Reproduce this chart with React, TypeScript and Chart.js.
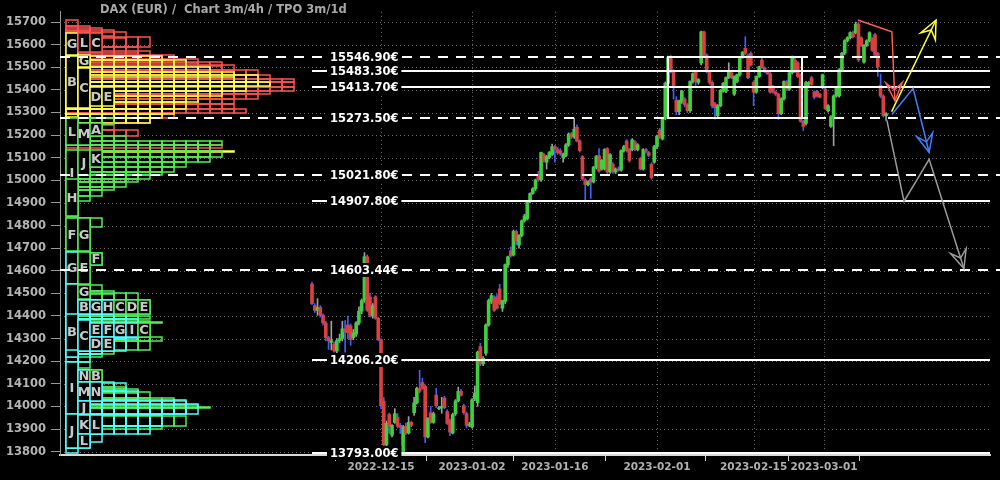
import React, { useEffect, useRef } from 'react';
import { Chart, registerables } from 'chart.js';

Chart.register(...registerables);

// ---- candle data (4h candles, index = candle number) ----
const opens = [
  14541,14446,14425,14438,14403,14369,14304,14283,14275,14245,
  14291,14300,14343,14360,14356,14304,14320,14369,14421,14468,
  14662,14485,14399,14485,14390,14296,14024,13830,13964,13873,
  13929,13951,13916,13800,13912,13882,13929,13972,14016,14080,
  14106,14089,13865,13972,13929,14050,13990,13994,14037,13977,
  13938,13882,13968,14024,14067,14003,13968,13916,13908,14033,
  14016,14265,14188,14235,14360,14464,14481,14485,14520,14434,
  14464,14627,14688,14670,14774,14713,14756,14821,14830,14907,
  14942,14963,15024,15002,15114,15080,15101,15114,15149,15136,
  15131,15101,15110,15157,15205,15192,15235,15174,15105,15002,
  14981,15006,14993,15058,15110,15050,15050,15140,15037,15071,
  15037,15050,15045,15131,15174,15136,15136,15170,15136,15097,
  15050,15136,15123,15071,15080,15149,15222,15183,15274,15429,
  15545,15480,15355,15304,15351,15360,15334,15308,15437,15480,
  15433,15519,15657,15554,15480,15433,15338,15286,15330,15394,
  15394,15454,15476,15381,15437,15467,15545,15584,15554,15562,
  15433,15390,15459,15532,15498,15480,15472,15416,15390,15381,
  15295,15360,15437,15403,15476,15532,15519,15467,15261,15252,
  15424,15454,15390,15394,15381,15411,15403,15308,15239,15274,
  15373,15373,15489,15562,15618,15631,15653,15653,15691,15631,
  15523,15597,15618,15627,15644,15562,15420,15373,15286,
];
const highs = [
  14550,14455,14477,14446,14410,14377,14310,14377,14285,14300,
  14320,14377,14380,14400,14365,14340,14375,14440,14475,14680,
  14670,14500,14455,14490,14395,14300,14040,13935,13970,13920,
  13990,13968,13925,13916,13925,13955,13935,14040,14085,14160,
  14125,14095,13950,14000,13975,14080,14000,14040,14045,13985,
  13945,13970,14030,14085,14075,14010,13975,13930,14035,14090,
  14245,14280,14220,14365,14475,14500,14490,14495,14540,14470,
  14630,14665,14705,14780,14780,14760,14825,14850,14910,14945,
  14968,15005,15040,15125,15120,15110,15128,15160,15155,15145,
  15140,15120,15162,15210,15212,15275,15245,15180,15110,15008,
  14998,15012,15062,15110,15140,15092,15140,15145,15118,15078,
  15055,15060,15135,15155,15180,15142,15185,15176,15162,15102,
  15140,15140,15128,15078,15155,15200,15230,15278,15435,15550,
  15552,15490,15370,15355,15398,15366,15340,15440,15476,15485,
  15450,15660,15660,15560,15485,15440,15345,15335,15402,15433,
  15458,15520,15482,15462,15470,15548,15570,15635,15560,15568,
  15440,15462,15505,15540,15502,15485,15478,15420,15395,15386,
  15365,15440,15442,15480,15550,15540,15525,15472,15266,15438,
  15437,15460,15396,15398,15386,15470,15408,15335,15286,15378,
  15415,15494,15566,15622,15635,15657,15660,15700,15700,15636,
  15600,15622,15657,15632,15650,15566,15470,15378,15300,
];
const lows = [
  14450,14415,14403,14395,14360,14290,14252,14250,14240,14235,
  14283,14290,14240,14300,14270,14295,14310,14360,14410,14460,
  14420,14395,14390,14385,14290,13990,13825,13820,13880,13865,
  13925,13905,13880,13793,13875,13878,13910,13960,14010,14060,
  14075,13840,13860,13925,13925,13995,13985,13970,13990,13920,
  13870,13878,13960,14020,14045,13965,13905,13910,13905,14025,
  14000,14180,14180,14225,14355,14455,14420,14430,14450,14420,
  14455,14615,14660,14665,14715,14700,14750,14815,14825,14900,
  14938,14955,14995,14995,15080,15050,15095,15110,15080,15115,
  15110,15080,15105,15150,15185,15185,15170,15125,15000,14905,
  14975,14920,14988,15050,15035,15045,15045,15030,15030,15030,
  15030,15040,15040,15125,15125,15080,15130,15130,15130,15045,
  15045,15120,15105,15005,15075,15140,15185,15178,15268,15420,
  15475,15360,15290,15290,15340,15325,15300,15300,15430,15420,
  15425,15510,15550,15475,15425,15320,15270,15280,15325,15390,
  15388,15450,15450,15375,15432,15460,15540,15556,15450,15505,
  15330,15385,15455,15495,15476,15468,15385,15385,15375,15270,
  15290,15355,15398,15398,15470,15476,15455,15257,15220,15245,
  15418,15420,15360,15368,15364,15405,15312,15302,15234,15153,
  15368,15368,15484,15556,15612,15625,15630,15648,15525,15592,
  15518,15592,15612,15570,15550,15460,15365,15280,15265,
];
const closes = [
  14455,14425,14438,14403,14369,14304,14290,14291,14245,14291,
  14300,14343,14330,14326,14296,14326,14369,14421,14468,14662,
  14425,14403,14446,14390,14296,14003,13830,13925,13912,13916,
  13968,13912,13908,13908,13882,13929,13916,14016,14080,14067,
  14080,13865,13946,13929,13968,14003,13994,14000,13994,13925,
  13886,13964,14024,14067,14050,13972,13916,13920,14029,14059,
  14240,14188,14213,14360,14468,14490,14425,14434,14455,14468,
  14627,14662,14666,14774,14731,14756,14821,14843,14907,14942,
  14963,15002,15002,15123,15088,15105,15123,15149,15140,15123,
  15118,15114,15157,15205,15192,15226,15174,15131,15006,14981,
  14993,14993,15058,15105,15041,15088,15136,15037,15114,15037,
  15050,15045,15131,15149,15131,15088,15179,15136,15157,15050,
  15136,15128,15110,15011,15149,15196,15192,15274,15429,15545,
  15480,15416,15304,15351,15394,15334,15308,15437,15472,15437,
  15446,15657,15554,15480,15433,15330,15321,15330,15398,15429,
  15454,15480,15454,15459,15467,15545,15566,15562,15454,15510,
  15390,15459,15502,15498,15480,15472,15390,15390,15381,15295,
  15360,15437,15403,15476,15545,15480,15459,15261,15239,15433,
  15433,15424,15368,15373,15368,15467,15317,15330,15282,15373,
  15411,15489,15562,15618,15631,15653,15635,15691,15532,15597,
  15597,15618,15653,15575,15554,15502,15373,15286,15295,
];

// ---- x axis date ticks (candle index where the day starts) ----
const dateTickIdx = [25, 58, 88, 125, 160, 185.5];
const dateLabels = ['2022-12-15', '2023-01-02', '2023-01-16', '2023-02-01', '2023-02-15', '2023-03-01'];

// ---- price levels ----
const levelValues = [15546.90, 15483.30, 15413.70, 15273.50, 15021.80, 14907.80, 14603.44, 14206.20, 13793.00];
const levelDashed = [true, false, false, true, true, false, true, false, false];

// ---- value area box: [fromIdx, toIdx, low, high] ----
const rangeBox = [129, 177.5, 15273.5, 15546.9];

// ---- drawn arrows: [candle index, price] ----
const yellowArrow = [[210, 15304], [226.1, 15709]];
const redArrow = [[197.8, 15709], [210.1, 15657], [211.2, 15351]];
const blueArrow = [[210.1, 15291], [217.8, 15407], [223.6, 15123]];
const grayArrow = [[208.3, 15265], [214.5, 14907], [223.6, 15093], [236.2, 14610]];

// ---- TPO profile rows: [low, high, number of TPO boxes] ----
const tpoRed = [
  [15683,15709,1],[15661,15683,2],[15653,15674,3],[15640,15666,4],[15631,15657,5],
  [15588,15635,7],[15562,15588,6],[15549,15570,7],[15532,15554,9],[15519,15535,11],
  [15505,15525,13],[15489,15510,14],[15467,15489,16],[15450,15467,17],[15433,15450,19],
  [15411,15437,19],[15394,15411,19],[15381,15394,17],[15360,15381,16],[15338,15360,14],
  [15317,15338,14],[15299,15317,15],[15274,15299,9],[15252,15274,7],[15222,15243,4],
  [15196,15222,6],[15144,15157,13],
];
const tpoYellow = [
  [15532,15549,8],[15502,15532,10],[15480,15502,12],[15459,15480,14],[15437,15467,16],
  [15416,15437,17],[15394,15416,15],[15373,15394,13],[15347,15373,11],[15317,15347,10],
  [15295,15317,9],[15274,15295,8],[15252,15274,7],[15282,15321,1],[15125,15131,14],
];
const tpoGreen = [
  [15248,15274,4],[15222,15248,3],[15174,15196,5],[15157,15174,13],[15131,15157,12],
  [15101,15131,13],[15080,15101,12],[15058,15080,10],[15037,15058,9],[15024,15037,8],
  [15006,15024,7],[14993,15006,6],[14972,14993,5],[14955,14972,4],[14929,14955,3],
  [14907,14929,2],[14843,14907,1],[14795,14834,3],[14688,14795,2],[14627,14679,3],
  [14541,14627,2],[14511,14537,3],[14498,14511,4],[14472,14502,6],[14408,14472,7],
  [14399,14412,6],[14386,14399,7],[14369,14373,8],[14309,14377,7],[14291,14309,8],
  [14248,14291,7],[14231,14244,4],[14218,14231,3],[14171,14197,2],[14106,14162,3],
  [14085,14106,4],[14076,14085,5],[14059,14076,6],[14037,14063,7],[14024,14037,9],
  [14007,14024,10],[13994,14007,11],[13994,13998,12],[13912,13959,10],[13899,13912,8],
];
const tpoCyan = [
  [14408,14472,4],[14386,14408,5],[14309,14386,6],[14296,14309,6],[14244,14296,5],
  [14231,14244,3],[14197,14231,2],[14106,14162,2],[14067,14102,5],[14029,14067,6],
  [13968,14029,10],[13968,14011,11],[13912,13964,8],[13878,13912,7],[13843,13878,3],
  [13817,13843,2],[13795,13817,1],
];
// [letter, column, low, high, colour key]
const tpoLetters = [
  ['G',0,15554,15653,'y'],['L',1,15566,15653,'r'],['C',2,15566,15653,'r'],
  ['B',0,15321,15549,'y'],['G',1,15502,15554,'y'],['C',1,15321,15498,'y'],
  ['D',2,15330,15411,'y'],['E',3,15330,15411,'y'],
  ['L',0,15157,15274,'g'],['M',1,15157,15252,'g'],['A',2,15196,15252,'g'],
  ['I',0,14929,15136,'g'],['J',1,15024,15136,'g'],['K',2,15058,15136,'g'],
  ['H',0,14843,15006,'g'],['F',0,14688,14834,'g'],['G',1,14688,14834,'g'],
  ['F',2,14627,14679,'g'],['G',0,14541,14683,'c'],['E',1,14541,14683,'g'],
  ['A',0,14218,14541,'c'],['G',1,14477,14537,'g'],
  ['B',1,14408,14472,'c'],['G',2,14408,14472,'c'],['H',3,14408,14472,'c'],
  ['C',4,14408,14472,'g'],['D',5,14408,14472,'g'],['E',6,14408,14472,'g'],
  ['B',0,14248,14408,'c'],['C',1,14244,14382,'c'],
  ['E',2,14309,14369,'c'],['F',3,14309,14369,'c'],['G',4,14309,14369,'c'],
  ['I',5,14309,14369,'c'],['C',6,14309,14369,'g'],
  ['D',2,14244,14309,'c'],['E',3,14244,14309,'c'],
  ['I',0,13968,14197,'c'],['N',1,14106,14162,'c'],['B',2,14106,14162,'g'],
  ['M',1,14024,14106,'c'],['N',2,14024,14106,'c'],['J',1,13968,14024,'c'],
  ['J',0,13817,13968,'c'],['K',1,13878,13964,'c'],['L',2,13878,13964,'c'],
  ['L',1,13817,13878,'c'],
];

const TITLE = 'DAX (EUR) /  Chart 3m/4h / TPO 3m/1d';
const Y_MIN = 13785;
const Y_MAX = 15745;
const FONT = "'DejaVu Sans', sans-serif";
const TPO_COLORS: any = { r: '#ff5252', y: '#ffff52', g: '#52f052', c: '#52ffff' };

// layout of the index axis
const AREA_LEFT = 60;
const AREA_RIGHT = 990;
const FIRST_CANDLE_PX = 312;
const PX_PER_CANDLE = 2.76;
const X_MIN = -(FIRST_CANDLE_PX - AREA_LEFT) / PX_PER_CANDLE;
const X_MAX = X_MIN + (AREA_RIGHT - AREA_LEFT) / PX_PER_CANDLE;
// TPO columns expressed on the same index axis (12px wide, starting 6px right of the axis)
const TPO_X0 = X_MIN + 6 / PX_PER_CANDLE;
const TPO_COL = 12 / PX_PER_CANDLE;

function colPx(x: any, j: number) {
  return Math.round(x.getPixelForValue(TPO_X0 + j * TPO_COL));
}

function strokeRows(ctx: any, rows: number[][], color: string, x: any, y: any) {
  ctx.strokeStyle = color;
  ctx.lineWidth = 1.5;
  for (const [lo, hi, n] of rows) {
    const top = Math.round(y.getPixelForValue(hi));
    const bot = Math.round(y.getPixelForValue(lo));
    for (let j = 0; j < n; j++) {
      const l = colPx(x, j);
      const r = colPx(x, j + 1);
      ctx.strokeRect(l, top, r - l, Math.max(1, bot - top));
    }
  }
}

function drawArrow(ctx: any, pts: number[][], color: string, x: any, y: any) {
  const p = pts.map(([i, v]) => [x.getPixelForValue(i), y.getPixelForValue(v)]);
  ctx.save();
  ctx.strokeStyle = color;
  ctx.lineWidth = 1.5;
  ctx.setLineDash([]);
  ctx.beginPath();
  p.forEach(([px, py], k) => (k === 0 ? ctx.moveTo(px, py) : ctx.lineTo(px, py)));
  ctx.stroke();
  const [ax, ay] = p[p.length - 2];
  const [tx, ty] = p[p.length - 1];
  const a = Math.atan2(ty - ay, tx - ax);
  const L = 20;
  const th = 0.42;
  const w1 = [tx - L * Math.cos(a - th), ty - L * Math.sin(a - th)];
  const w2 = [tx - L * Math.cos(a + th), ty - L * Math.sin(a + th)];
  const nn = [tx - 0.55 * L * Math.cos(a), ty - 0.55 * L * Math.sin(a)];
  ctx.beginPath();
  ctx.moveTo(tx, ty);
  ctx.lineTo(w1[0], w1[1]);
  ctx.lineTo(nn[0], nn[1]);
  ctx.lineTo(w2[0], w2[1]);
  ctx.closePath();
  ctx.stroke();
  ctx.restore();
}

const overlayPlugin = {
  id: 'overlay',
  beforeDraw(chart: any) {
    const { ctx, width, height } = chart;
    ctx.save();
    ctx.fillStyle = '#000';
    ctx.fillRect(0, 0, width, height);
    ctx.restore();
  },
  beforeDatasetsDraw(chart: any) {
    const { ctx, chartArea: a } = chart;
    const x = chart.scales.x;
    const y = chart.scales.y;
    ctx.save();
    // dotted grid
    ctx.strokeStyle = '#6e6e6e';
    ctx.lineWidth = 1;
    ctx.setLineDash([1, 3]);
    for (const t of y.ticks) {
      if (t.value % 100 !== 0) continue;
      const py = Math.round(y.getPixelForValue(t.value)) + 0.5;
      ctx.beginPath();
      ctx.moveTo(a.left, py);
      ctx.lineTo(a.right, py);
      ctx.stroke();
    }
    for (const v of dateTickIdx) {
      const px = Math.round(x.getPixelForValue(v)) + 0.5;
      ctx.beginPath();
      ctx.moveTo(px, a.top);
      ctx.lineTo(px, a.bottom);
      ctx.stroke();
    }
    ctx.setLineDash([]);
    // TPO profile
    strokeRows(ctx, tpoRed, TPO_COLORS.r, x, y);
    strokeRows(ctx, tpoYellow, TPO_COLORS.y, x, y);
    strokeRows(ctx, tpoGreen, TPO_COLORS.g, x, y);
    strokeRows(ctx, tpoCyan, TPO_COLORS.c, x, y);
    ctx.font = `bold 13px ${FONT}`;
    ctx.textAlign = 'center';
    ctx.textBaseline = 'middle';
    for (const [ch, col, lo, hi, ck] of tpoLetters as any[]) {
      const top = Math.round(y.getPixelForValue(hi));
      const bot = Math.round(y.getPixelForValue(lo));
      const l = colPx(x, col);
      const r = colPx(x, col + 1);
      ctx.fillStyle = '#000';
      ctx.fillRect(l, top, r - l, bot - top);
      ctx.strokeStyle = TPO_COLORS[ck];
      ctx.lineWidth = 1.5;
      ctx.strokeRect(l, top, r - l, bot - top);
      ctx.fillStyle = '#c8c8c8';
      ctx.fillText(ch, (l + r) / 2, (top + bot) / 2 + 1);
    }
    ctx.restore();
  },
  afterDatasetsDraw(chart: any) {
    const { ctx, chartArea: a, width } = chart;
    const x = chart.scales.x;
    const y = chart.scales.y;
    ctx.save();
    // value area box
    const [bi0, bi1, blo, bhi] = rangeBox;
    const bx0 = Math.round(x.getPixelForValue(bi0));
    const bx1 = Math.round(x.getPixelForValue(bi1));
    const by0 = Math.round(y.getPixelForValue(bhi));
    const by1 = Math.round(y.getPixelForValue(blo));
    ctx.strokeStyle = '#ffffff';
    ctx.lineWidth = 2;
    ctx.strokeRect(bx0, by0, bx1 - bx0, by1 - by0);
    // levels
    const x0 = x.getPixelForValue(0);
    levelValues.forEach((v, i) => {
      const py = Math.round(y.getPixelForValue(v));
      ctx.strokeStyle = '#ffffff';
      ctx.lineWidth = 2;
      ctx.beginPath();
      if (levelDashed[i]) {
        ctx.setLineDash([10, 8]);
        ctx.moveTo(a.left, py);
        ctx.lineTo(width, py);
      } else {
        ctx.setLineDash([]);
        ctx.moveTo(x0, py);
        ctx.lineTo(a.right, py);
      }
      ctx.stroke();
      ctx.setLineDash([]);
    });
    ctx.font = `bold 11.5px ${FONT}`;
    ctx.textAlign = 'left';
    ctx.textBaseline = 'middle';
    levelValues.forEach((v) => {
      const py = Math.round(y.getPixelForValue(v));
      const text = v.toFixed(2) + '€';
      const lx = x0 + 18;
      const w = ctx.measureText(text).width;
      ctx.fillStyle = '#000';
      ctx.fillRect(lx - 3, py - 7, w + 6, 14);
      ctx.fillStyle = '#ffffff';
      ctx.fillText(text, lx, py + 1);
    });
    // arrows
    drawArrow(ctx, redArrow, '#ff5a5a', x, y);
    drawArrow(ctx, blueArrow, '#3f7fff', x, y);
    drawArrow(ctx, grayArrow, '#9a9a9a', x, y);
    drawArrow(ctx, yellowArrow, '#ffff33', x, y);
    // title
    ctx.font = `bold 11.5px ${FONT}`;
    ctx.fillStyle = '#a8a8a8';
    ctx.textAlign = 'left';
    ctx.textBaseline = 'middle';
    ctx.fillText(TITLE, 100, 10);
    ctx.restore();
  },
};

export default function App() {
  const ref = useRef<HTMLCanvasElement>(null);
  useEffect(() => {
    const canvas = ref.current as HTMLCanvasElement;
    const idx = opens.map((_, i) => i);
    const up = opens.map((o, i) => closes[i] >= o);
    const tickFont = { family: FONT, size: 11.5, weight: 'bold' as const };
    const chart = new Chart(canvas, {
      type: 'bar',
      data: {
        datasets: [
          {
            label: 'wick',
            data: idx.map((i) => ({ x: i, y: [lows[i], highs[i]] })) as any,
            backgroundColor: up.map((u) => (u ? '#a0a0a0' : '#3f5fff')),
            barThickness: 1,
            grouped: false,
            order: 2,
          },
          {
            label: 'body',
            data: idx.map((i) => ({ x: i, y: [opens[i], closes[i]] })) as any,
            backgroundColor: up.map((u) => (u ? '#3fcf3f' : '#d94040')),
            barThickness: 3,
            grouped: false,
            order: 1,
          },
        ],
      },
      options: {
        responsive: false,
        animation: false,
        devicePixelRatio: 1,
        layout: { padding: { left: 0, right: 1000 - AREA_RIGHT, top: 0, bottom: 0 } },
        plugins: { legend: { display: false }, tooltip: { enabled: false } },
        scales: {
          x: {
            type: 'linear',
            min: X_MIN,
            max: X_MAX,
            offset: false,
            afterBuildTicks: (s: any) => {
              s.ticks = dateTickIdx.map((v) => ({ value: v }));
            },
            afterFit: (s: any) => {
              s.height = 25;
            },
            ticks: {
              autoSkip: false,
              maxRotation: 0,
              padding: 0,
              color: '#b0b0b0',
              font: { family: FONT, size: 10.5, weight: 'bold' },
              callback: (_v: any, i: number) => dateLabels[i],
            },
            grid: { drawOnChartArea: false, drawTicks: true, tickLength: 6, tickColor: '#cfcfcf', color: '#cfcfcf' },
            border: { display: true, color: '#d8d8d8', width: 2 },
          },
          y: {
            type: 'linear',
            position: 'left',
            min: Y_MIN,
            max: Y_MAX,
            beginAtZero: false,
            afterBuildTicks: (s: any) => {
              const t = [];
              for (let v = 13800; v <= 15700; v += 50) t.push({ value: v });
              s.ticks = t;
            },
            afterFit: (s: any) => {
              s.width = AREA_LEFT;
            },
            ticks: {
              padding: 5,
              color: '#b4b4b4',
              font: tickFont,
              callback: (v: any) => (Number(v) % 100 === 0 ? String(v) : ''),
            },
            grid: { drawOnChartArea: false, drawTicks: true, tickLength: 9, tickColor: '#9a9a9a', color: '#9a9a9a' },
            border: { display: true, color: '#9a9a9a', width: 1 },
          },
        },
      } as any,
      plugins: [overlayPlugin],
    });
    return () => chart.destroy();
  }, []);
  return (
    <div style={{ position: 'fixed', left: 0, top: 0, width: 1000, height: 480, background: '#000' }}>
      <canvas ref={ref} width={1000} height={480} style={{ display: 'block' }} />
    </div>
  );
}
